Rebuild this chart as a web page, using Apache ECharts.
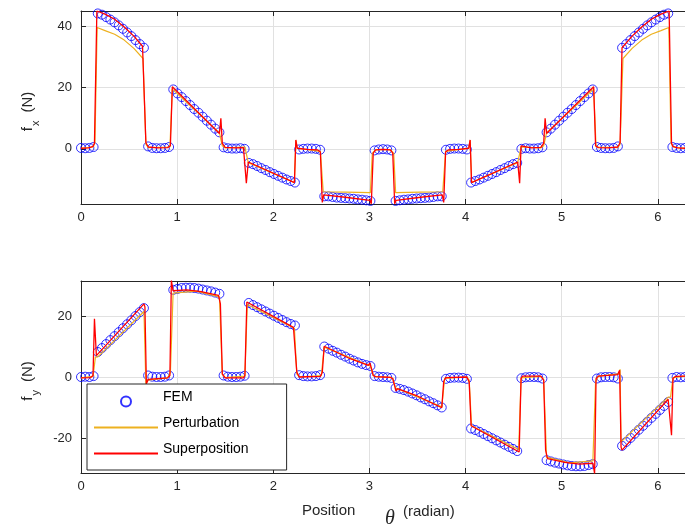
<!DOCTYPE html>
<html><head><meta charset="utf-8">
<script src="https://cdn.jsdelivr.net/npm/echarts@6/dist/echarts.min.js"></script>
<style>html,body{margin:0;padding:0;background:#fff}#c{width:685px;height:530px}</style>
</head><body><div id="c"></div>
<script>
// ---- data ----
const xTicks = [0, 1, 2, 3, 4, 5, 6];
const femStepDeg = 2.5;      // FEM sample spacing (degrees)
const femCount = 145;        // 0 .. 360 deg

const fxFem = [
  0.3, 0.2, 0.3, 0.6,
  44.2, 43.8, 43.0, 42.2, 41.3, 40.3, 39.2, 38.0, 36.8, 35.5, 34.2, 33.0,
  0.8, 0.3, 0.2, 0.2, 0.3, 0.6,
  19.4, 18.1, 16.9, 15.6, 14.3, 13.0, 11.8, 10.5, 9.2, 7.9, 6.6, 5.4,
  0.5, 0.2, 0.1, 0.1, 0.2, 0.0,
  -4.6, -5.0, -5.6, -6.3, -6.9, -7.6, -8.2, -8.8, -9.4, -10.0, -10.5, -11.0,
  -0.2, 0.0, 0.1, 0.1, 0.0, -0.3,
  -15.5, -15.5, -15.7, -15.9, -16.0, -16.1, -16.2, -16.3, -16.5, -16.6, -16.8, -17.0,
  -0.5, -0.2, -0.1,
  -0.2, -0.5,
  -17.0, -16.8, -16.6, -16.5, -16.3, -16.2, -16.1, -16.0, -15.9, -15.7, -15.5, -15.5,
  -0.3, 0.0, 0.1, 0.1, 0.0, -0.2,
  -11.0, -10.5, -10.0, -9.4, -8.8, -8.2, -7.6, -6.9, -6.3, -5.6, -5.0, -4.6,
  0.0, 0.2, 0.1, 0.1, 0.2, 0.5,
  5.4, 6.6, 7.9, 9.2, 10.5, 11.8, 13.0, 14.3, 15.6, 16.9, 18.1, 19.4,
  0.6, 0.3, 0.2, 0.2, 0.3, 0.8,
  33.0, 34.2, 35.5, 36.8, 38.0, 39.2, 40.3, 41.3, 42.2, 43.0, 43.8, 44.2,
  0.6, 0.3, 0.2, 0.3
];

const fyFem = [
  0.0, 0.1, 0.0, 0.3,
  8.2, 9.5, 10.8, 12.1, 13.4, 14.7, 16.0, 17.3, 18.6, 20.0, 21.3, 22.6,
  0.5, 0.1, 0.0, 0.0, 0.1, 0.5,
  28.6, 28.9, 29.2, 29.3, 29.3, 29.2, 29.0, 28.7, 28.4, 28.1, 27.7, 27.3,
  0.5, 0.1, 0.0, 0.0, 0.1, 0.4,
  24.3, 23.6, 22.9, 22.2, 21.5, 20.8, 20.1, 19.4, 18.7, 18.0, 17.4, 16.9,
  0.6, 0.3, 0.2, 0.2, 0.3, 0.6,
  10.0, 9.3, 8.6, 8.0, 7.3, 6.7, 6.0, 5.4, 4.8, 4.3, 3.9, 3.6,
  0.3, 0.1, 0.0,
  -0.1, -0.3,
  -3.6, -3.9, -4.3, -4.8, -5.4, -6.0, -6.7, -7.3, -8.0, -8.6, -9.3, -10.0,
  -0.6, -0.3, -0.2, -0.2, -0.3, -0.6,
  -16.9, -17.4, -18.0, -18.7, -19.4, -20.1, -20.8, -21.5, -22.2, -22.9, -23.6, -24.3,
  -0.4, -0.1, 0.0, 0.0, -0.1, -0.5,
  -27.3, -27.7, -28.1, -28.4, -28.7, -29.0, -29.2, -29.3, -29.3, -29.2, -28.9, -28.6,
  -0.5, -0.1, 0.0, 0.0, -0.1, -0.5,
  -22.6, -21.3, -20.0, -18.6, -17.3, -16.0, -14.7, -13.4, -12.1, -10.8, -9.5, -8.2,
  -0.3, 0.0, -0.1, 0.0
];

// [theta (rad), force (N)]
const fxSuperposition = [
  [0,0.2],[0.08,0.3],[0.125,0.8],[0.14,1.8],[0.165,45.0],[0.25,44.0],[0.35,42.3],[0.45,39.8],[0.55,36.8],[0.64,33.5],[0.655,33.0],[0.675,2.0],[0.70,0.6],[0.8,0.3],[0.9,0.4],[0.93,1.0],[0.95,20.3],[1.44,5.0],[1.455,10.0],[1.47,1.8],[1.5,0.5],[1.6,0.3],[1.69,0.4],[1.705,1.0],[1.72,-11.2],[1.74,-4.3],[2.22,-11.0],[2.235,2.9],[2.25,0.2],[2.35,-0.2],[2.46,-0.3],[2.49,-1.0],[2.51,-17.5],[2.525,-15.0],[2.75,-15.8],[3.005,-16.8],[3.02,-17.9],[3.04,-1.4],[3.065,-0.3],[3.1416,-0.2],
  [3.218,-0.3],[3.243,-1.4],[3.263,-17.9],[3.278,-16.8],[3.533,-15.8],[3.758,-15.0],[3.773,-17.5],[3.793,-1.0],[3.823,-0.3],[3.933,-0.2],[4.033,0.2],[4.048,2.9],[4.063,-11.0],[4.543,-4.3],[4.563,-11.2],[4.578,1.0],[4.593,0.4],[4.683,0.3],[4.783,0.5],[4.813,1.8],[4.828,10.0],[4.843,5.0],[5.333,20.3],[5.353,1.0],[5.383,0.4],[5.483,0.3],[5.583,0.6],[5.608,2.0],[5.628,33.0],[5.643,33.5],[5.733,36.8],[5.833,39.8],[5.933,42.3],[6.033,44.0],[6.118,45.0],[6.143,1.8],[6.158,0.8],[6.203,0.3],[6.2832,0.2]
];
const fxPerturbation = [
  [0,0.2],[0.125,0.6],[0.145,2.0],[0.168,39.6],[0.25,38.6],[0.35,37.4],[0.45,35.5],[0.55,32.8],[0.645,29.5],[0.675,1.5],[0.70,0.4],[0.925,0.6],[0.95,19.5],[1.44,5.2],[1.47,1.0],[1.5,0.3],[1.705,0.6],[1.74,-4.5],[2.22,-11.0],[2.235,2.8],[2.25,0.2],[2.49,-0.8],[2.52,-14.0],[2.75,-14.1],[3.01,-14.3],[3.03,-1.5],[3.065,-0.3],[3.1416,-0.2],
  [3.218,-0.3],[3.253,-1.5],[3.273,-14.3],[3.533,-14.1],[3.763,-14.0],[3.793,-0.8],[4.033,0.2],[4.048,2.8],[4.063,-11.0],[4.543,-4.5],[4.578,0.6],[4.783,0.3],[4.813,1.0],[4.843,5.2],[5.333,19.5],[5.358,0.6],[5.583,0.4],[5.608,1.5],[5.638,29.5],[5.733,32.8],[5.833,35.5],[5.933,37.4],[6.033,38.6],[6.115,39.6],[6.138,2.0],[6.158,0.6],[6.2832,0.2]
];
const fySuperposition = [
  [0,-0.3],[0.10,-0.2],[0.125,0.5],[0.14,19.1],[0.16,7.0],[0.175,7.3],[0.655,24.0],[0.665,23.0],[0.68,-2.2],[0.70,-0.8],[0.8,-0.5],[0.9,-0.3],[0.925,0.5],[0.94,31.7],[0.958,28.3],[1.1,28.6],[1.25,28.0],[1.43,26.8],[1.45,24.0],[1.47,1.0],[1.5,-0.3],[1.69,-0.3],[1.705,0.5],[1.725,24.6],[2.21,16.3],[2.225,16.0],[2.245,1.6],[2.27,0.0],[2.49,0.2],[2.51,1.5],[2.53,10.1],[2.8,6.0],[2.99,3.8],[3.005,4.6],[3.02,3.0],[3.04,0.5],[3.065,0.1],[3.1416,0.0],
  [3.218,-0.1],[3.243,-0.5],[3.263,-3.0],[3.278,-4.6],[3.293,-3.8],[3.483,-6.0],[3.753,-10.1],[3.773,-1.5],[3.793,-0.2],[4.013,0.0],[4.038,-1.6],[4.058,-16.0],[4.073,-16.3],[4.558,-24.6],[4.578,-0.5],[4.593,0.3],[4.783,0.3],[4.813,-1.0],[4.833,-24.0],[4.853,-26.8],[5.033,-28.0],[5.183,-28.6],[5.325,-28.3],[5.343,-31.7],[5.358,-0.5],[5.383,0.3],[5.483,0.5],[5.583,0.8],[5.603,2.2],[5.618,-23.0],[5.628,-24.0],[6.108,-7.3],[6.123,-7.0],[6.143,-19.1],[6.158,-0.5],[6.183,0.2],[6.2832,0.3]
];
const fyPerturbation = [
  [0,-0.3],[0.125,0.2],[0.15,6.5],[0.175,6.6],[0.655,21.5],[0.665,21.3],[0.675,-2.5],[0.69,-1.0],[0.9,-0.3],[0.93,1.5],[0.958,27.5],[1.2,28.2],[1.44,26.3],[1.47,0.8],[1.5,-0.2],[1.705,0.3],[1.73,23.8],[2.22,16.0],[2.245,1.0],[2.27,0.0],[2.5,0.5],[2.53,9.8],[3.01,3.6],[3.04,0.5],[3.065,0.1],[3.1416,0.0],
  [3.218,-0.1],[3.243,-0.5],[3.273,-3.6],[3.753,-9.8],[3.783,-0.5],[4.013,0.0],[4.038,-1.0],[4.063,-16.0],[4.553,-23.8],[4.578,-0.3],[4.783,0.2],[4.813,-0.8],[4.843,-26.3],[5.083,-28.2],[5.325,-27.5],[5.353,-1.5],[5.383,0.3],[5.593,1.0],[5.608,2.5],[5.618,-21.3],[5.628,-21.5],[6.108,-6.6],[6.133,-6.5],[6.158,-0.2],[6.2832,0.3]
];
const legendNames = ['FEM', 'Perturbation', 'Superposition'];

// ---- chart ----
const FONT = '"Liberation Sans", Arial, Helvetica, sans-serif';
const AX = '#262626';
const GRIDC = '#e1e1e1';
const femTheta = [];
for (let i = 0; i < femCount; i++) femTheta.push(i * femStepDeg * Math.PI / 180);
const pairs = (ys) => ys.map((v, i) => [femTheta[i], v]);

function xBottom(gi) {
  return {
    type: 'value', gridIndex: gi, min: 0, max: 2 * Math.PI, interval: 1, position: 'bottom',
    axisLine: { show: true, onZero: false, lineStyle: { color: AX, width: 1 } },
    axisTick: { show: true, inside: true, length: 5, lineStyle: { color: AX } },
    axisLabel: { color: AX, fontFamily: FONT, fontSize: 13, margin: 7, showMaxLabel: false,
      formatter: (v) => (xTicks.indexOf(v) >= 0 ? String(v) : '') },
    splitLine: { show: true, showMinLine: false, showMaxLine: false, lineStyle: { color: GRIDC, width: 1 } }
  };
}
function xTop(gi) {
  return {
    type: 'value', gridIndex: gi, min: 0, max: 2 * Math.PI, interval: 1, position: 'top',
    axisLine: { show: true, onZero: false, lineStyle: { color: AX, width: 1 } },
    axisTick: { show: true, inside: true, length: 5, lineStyle: { color: AX } },
    axisLabel: { show: false }, splitLine: { show: false }
  };
}
function yAx(gi, mn, mx, sub) {
  return {
    type: 'value', gridIndex: gi, min: mn, max: mx, splitNumber: 3, minInterval: 20, maxInterval: 20,
    axisLine: { show: true, onZero: false, lineStyle: { color: AX, width: 1 } },
    axisTick: { show: true, inside: true, length: 5, lineStyle: { color: AX } },
    axisLabel: { color: AX, fontFamily: FONT, fontSize: 13, margin: 9, showMinLabel: false, showMaxLabel: false },
    splitLine: { show: true, showMinLine: false, showMaxLine: false, lineStyle: { color: GRIDC, width: 1 } },
    name: '{f|f}{s|' + sub + '}{g| }{n|(N)}', nameLocation: 'middle', nameRotate: 90, nameGap: 40,
    nameTextStyle: {
      color: AX, padding: [0, 8, 0, 0],
      rich: {
        f: { fontFamily: FONT, fontSize: 15, color: AX, lineHeight: 26, verticalAlign: 'middle' },
        s: { fontFamily: FONT, fontSize: 11, color: AX, lineHeight: 11, verticalAlign: 'bottom', padding: [0, 0, 0, 1] },
        g: { fontFamily: FONT, fontSize: 15, color: AX, lineHeight: 26, width: 8 },
        n: { fontFamily: FONT, fontSize: 15, color: AX, lineHeight: 26, verticalAlign: 'middle' }
      }
    }
  };
}
function femSeries(xi, data) {
  return { type: 'scatter', name: 'FEM', xAxisIndex: xi, yAxisIndex: xi, data: data,
    symbol: 'circle', symbolSize: 9, silent: true, z: 2,
    itemStyle: { color: 'rgba(255,255,255,0)', borderColor: '#0000ff', borderWidth: 1 } };
}
function lineSeries(xi, name, data, color, w, z) {
  return { type: 'line', name: name, xAxisIndex: xi, yAxisIndex: xi, data: data, symbol: 'none',
    silent: true, z: z, lineStyle: { color: color, width: w }, itemStyle: { color: color } };
}

const chart = echarts.init(document.getElementById('c'), null, { renderer: 'canvas' });
chart.setOption({
  animation: false,
  backgroundColor: '#ffffff',
  grid: [
    { left: 81, top: 11, width: 615, height: 193 },
    { left: 81, top: 281, width: 615, height: 192 }
  ],
  xAxis: [xBottom(0), xBottom(1), xTop(0), xTop(1)],
  yAxis: [yAx(0, -18, 45, 'x'), yAx(1, -31.5, 31.5, 'y')],
  legend: {
    data: [
      { name: legendNames[0] },
      { name: legendNames[1], itemStyle: { opacity: 0 } },
      { name: legendNames[2], itemStyle: { opacity: 0 } }
    ],
    orient: 'vertical', left: 87, top: 384,
    itemWidth: 64, itemHeight: 10, itemGap: 6, padding: [6, 38, 8, 6],
    backgroundColor: '#ffffff', borderColor: AX, borderWidth: 1, borderRadius: 0,
    selectedMode: false, z: 10,
    formatter: (n) => '{a|' + n + '}\n{b| }',
    textStyle: { fontFamily: FONT, fontSize: 14, color: '#000',
      rich: { a: { fontFamily: FONT, fontSize: 14, color: '#000', lineHeight: 16 },
              b: { fontSize: 1, lineHeight: 9 } } }
  },
  graphic: [
    { type: 'text', x: 302, y: 511, style: { text: 'Position', font: '15px "Liberation Sans", Arial', fill: AX, align: 'left', verticalAlign: 'middle' } },
    { type: 'text', x: 385, y: 519, style: { text: 'θ', font: 'italic 20px "Liberation Serif", "DejaVu Serif", serif', fill: AX, align: 'left', verticalAlign: 'middle' } },
    { type: 'text', x: 403, y: 512, style: { text: '(radian)', font: '15px "Liberation Sans", Arial', fill: AX, align: 'left', verticalAlign: 'middle' } }
  ],
  series: [
    femSeries(0, pairs(fxFem)),
    lineSeries(0, 'Perturbation', fxPerturbation, '#EDB120', 1.2, 3),
    lineSeries(0, 'Superposition', fxSuperposition, '#FF0000', 1.3, 4),
    femSeries(1, pairs(fyFem)),
    lineSeries(1, 'Perturbation', fyPerturbation, '#EDB120', 1.2, 3),
    lineSeries(1, 'Superposition', fySuperposition, '#FF0000', 1.3, 4)
  ]
});
</script></body></html>
